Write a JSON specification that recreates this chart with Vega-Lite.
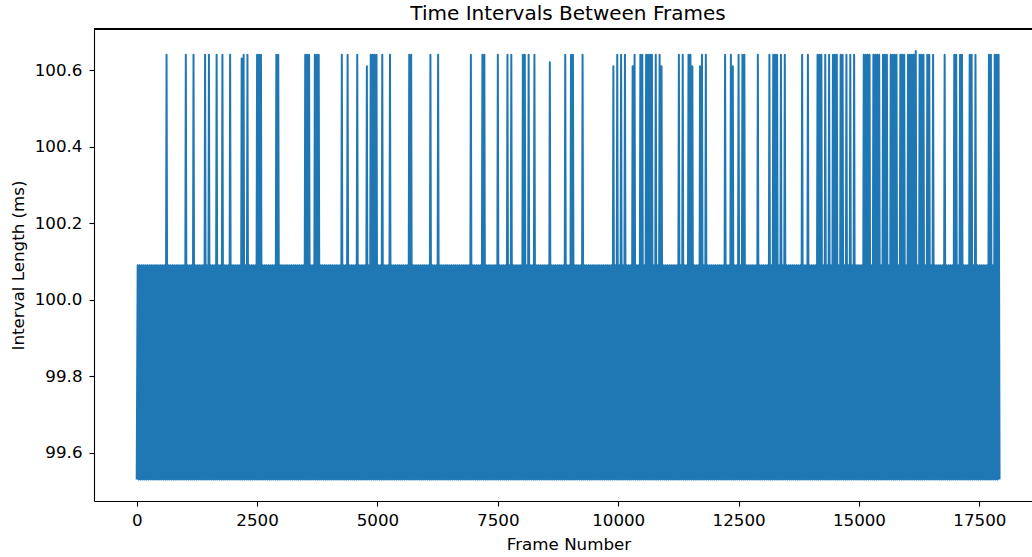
{
"$schema": "https://vega.github.io/schema/vega-lite/v6.json",
"width": 938,
"height": 472,
"autosize": "none",
"padding": {"left": 94, "top": 29, "right": 0, "bottom": 56},
"background": "white",
"config": {"view": {"stroke": null}, "font": "DejaVu Sans"},
"title": {"text": "Time Intervals Between Frames", "font": "DejaVu Sans", "fontSize": 20, "fontWeight": "normal", "color": "black", "anchor": "middle", "dx": 5, "offset": 4},
"data": {"values": [
{"frame":0,"ms":99.53},{"frame":20,"ms":100.09},{"frame":40,"ms":99.53},{"frame":60,"ms":100.09},{"frame":80,"ms":99.53},{"frame":100,"ms":100.09},{"frame":120,"ms":99.53},{"frame":140,"ms":100.09},{"frame":160,"ms":99.53},{"frame":180,"ms":100.09},{"frame":200,"ms":99.53},{"frame":220,"ms":100.09},{"frame":240,"ms":99.53},{"frame":260,"ms":100.09},{"frame":280,"ms":99.53},{"frame":300,"ms":100.09},{"frame":320,"ms":99.53},{"frame":340,"ms":100.09},{"frame":360,"ms":99.53},{"frame":380,"ms":100.09},
{"frame":400,"ms":99.53},{"frame":420,"ms":100.09},{"frame":440,"ms":99.53},{"frame":460,"ms":100.09},{"frame":480,"ms":99.53},{"frame":500,"ms":100.09},{"frame":520,"ms":99.53},{"frame":540,"ms":100.09},{"frame":560,"ms":99.53},{"frame":580,"ms":100.09},{"frame":600,"ms":99.53},{"frame":620,"ms":100.64},{"frame":640,"ms":99.53},{"frame":660,"ms":100.09},{"frame":680,"ms":99.53},{"frame":700,"ms":100.09},{"frame":720,"ms":99.53},{"frame":740,"ms":100.09},{"frame":760,"ms":99.53},{"frame":780,"ms":100.09},
{"frame":800,"ms":99.53},{"frame":820,"ms":100.09},{"frame":840,"ms":99.53},{"frame":860,"ms":100.09},{"frame":880,"ms":99.53},{"frame":900,"ms":100.09},{"frame":920,"ms":99.53},{"frame":940,"ms":100.09},{"frame":960,"ms":99.53},{"frame":980,"ms":100.09},{"frame":1000,"ms":99.53},{"frame":1020,"ms":100.64},{"frame":1040,"ms":99.53},{"frame":1060,"ms":100.09},{"frame":1080,"ms":99.53},{"frame":1100,"ms":100.09},{"frame":1120,"ms":99.53},{"frame":1140,"ms":100.09},{"frame":1160,"ms":99.53},{"frame":1180,"ms":100.64},
{"frame":1200,"ms":99.53},{"frame":1220,"ms":100.09},{"frame":1240,"ms":99.53},{"frame":1260,"ms":100.09},{"frame":1280,"ms":99.53},{"frame":1300,"ms":100.09},{"frame":1320,"ms":99.53},{"frame":1340,"ms":100.09},{"frame":1360,"ms":99.53},{"frame":1380,"ms":100.09},{"frame":1400,"ms":99.53},{"frame":1420,"ms":100.64},{"frame":1440,"ms":99.53},{"frame":1460,"ms":100.09},{"frame":1480,"ms":99.53},{"frame":1500,"ms":100.64},{"frame":1520,"ms":99.53},{"frame":1540,"ms":100.09},{"frame":1560,"ms":99.53},{"frame":1580,"ms":100.09},
{"frame":1600,"ms":99.53},{"frame":1620,"ms":100.09},{"frame":1640,"ms":99.53},{"frame":1660,"ms":100.64},{"frame":1680,"ms":99.53},{"frame":1700,"ms":100.09},{"frame":1720,"ms":99.53},{"frame":1740,"ms":100.09},{"frame":1760,"ms":99.53},{"frame":1780,"ms":100.64},{"frame":1800,"ms":99.53},{"frame":1820,"ms":100.09},{"frame":1840,"ms":99.53},{"frame":1860,"ms":100.09},{"frame":1880,"ms":99.53},{"frame":1900,"ms":100.09},{"frame":1920,"ms":99.53},{"frame":1940,"ms":100.64},{"frame":1960,"ms":99.53},{"frame":1980,"ms":100.09},
{"frame":2000,"ms":99.53},{"frame":2020,"ms":100.09},{"frame":2040,"ms":99.53},{"frame":2060,"ms":100.09},{"frame":2080,"ms":99.53},{"frame":2100,"ms":100.09},{"frame":2120,"ms":99.53},{"frame":2140,"ms":100.09},{"frame":2160,"ms":99.53},{"frame":2180,"ms":100.63},{"frame":2200,"ms":99.53},{"frame":2220,"ms":100.64},{"frame":2240,"ms":99.53},{"frame":2260,"ms":100.09},{"frame":2280,"ms":99.53},{"frame":2300,"ms":100.64},{"frame":2320,"ms":99.53},{"frame":2340,"ms":100.09},{"frame":2360,"ms":99.53},{"frame":2380,"ms":100.09},
{"frame":2400,"ms":99.53},{"frame":2420,"ms":100.09},{"frame":2440,"ms":99.53},{"frame":2460,"ms":100.09},{"frame":2480,"ms":99.53},{"frame":2500,"ms":100.64},{"frame":2520,"ms":99.53},{"frame":2540,"ms":100.64},{"frame":2560,"ms":99.53},{"frame":2580,"ms":100.64},{"frame":2600,"ms":99.53},{"frame":2620,"ms":100.09},{"frame":2640,"ms":99.53},{"frame":2660,"ms":100.09},{"frame":2680,"ms":99.53},{"frame":2700,"ms":100.09},{"frame":2720,"ms":99.53},{"frame":2740,"ms":100.09},{"frame":2760,"ms":99.53},{"frame":2780,"ms":100.09},
{"frame":2800,"ms":99.53},{"frame":2820,"ms":100.09},{"frame":2840,"ms":99.53},{"frame":2860,"ms":100.09},{"frame":2880,"ms":99.53},{"frame":2900,"ms":100.64},{"frame":2920,"ms":99.53},{"frame":2940,"ms":100.64},{"frame":2960,"ms":99.53},{"frame":2980,"ms":100.09},{"frame":3000,"ms":99.53},{"frame":3020,"ms":100.09},{"frame":3040,"ms":99.53},{"frame":3060,"ms":100.09},{"frame":3080,"ms":99.53},{"frame":3100,"ms":100.09},{"frame":3120,"ms":99.53},{"frame":3140,"ms":100.09},{"frame":3160,"ms":99.53},{"frame":3180,"ms":100.09},
{"frame":3200,"ms":99.53},{"frame":3220,"ms":100.09},{"frame":3240,"ms":99.53},{"frame":3260,"ms":100.09},{"frame":3280,"ms":99.53},{"frame":3300,"ms":100.09},{"frame":3320,"ms":99.53},{"frame":3340,"ms":100.09},{"frame":3360,"ms":99.53},{"frame":3380,"ms":100.09},{"frame":3400,"ms":99.53},{"frame":3420,"ms":100.09},{"frame":3440,"ms":99.53},{"frame":3460,"ms":100.09},{"frame":3480,"ms":99.53},{"frame":3500,"ms":100.64},{"frame":3520,"ms":99.53},{"frame":3540,"ms":100.64},{"frame":3560,"ms":99.53},{"frame":3580,"ms":100.64},
{"frame":3600,"ms":99.53},{"frame":3620,"ms":100.09},{"frame":3640,"ms":99.53},{"frame":3660,"ms":100.09},{"frame":3680,"ms":99.53},{"frame":3700,"ms":100.64},{"frame":3720,"ms":99.53},{"frame":3740,"ms":100.64},{"frame":3760,"ms":99.53},{"frame":3780,"ms":100.64},{"frame":3800,"ms":99.53},{"frame":3820,"ms":100.09},{"frame":3840,"ms":99.53},{"frame":3860,"ms":100.09},{"frame":3880,"ms":99.53},{"frame":3900,"ms":100.09},{"frame":3920,"ms":99.53},{"frame":3940,"ms":100.09},{"frame":3960,"ms":99.53},{"frame":3980,"ms":100.09},
{"frame":4000,"ms":99.53},{"frame":4020,"ms":100.09},{"frame":4040,"ms":99.53},{"frame":4060,"ms":100.09},{"frame":4080,"ms":99.53},{"frame":4100,"ms":100.09},{"frame":4120,"ms":99.53},{"frame":4140,"ms":100.09},{"frame":4160,"ms":99.53},{"frame":4180,"ms":100.09},{"frame":4200,"ms":99.53},{"frame":4220,"ms":100.09},{"frame":4240,"ms":99.53},{"frame":4260,"ms":100.64},{"frame":4280,"ms":99.53},{"frame":4300,"ms":100.09},{"frame":4320,"ms":99.53},{"frame":4340,"ms":100.09},{"frame":4360,"ms":99.53},{"frame":4380,"ms":100.64},
{"frame":4400,"ms":99.53},{"frame":4420,"ms":100.09},{"frame":4440,"ms":99.53},{"frame":4460,"ms":100.09},{"frame":4480,"ms":99.53},{"frame":4500,"ms":100.09},{"frame":4520,"ms":99.53},{"frame":4540,"ms":100.09},{"frame":4560,"ms":99.53},{"frame":4580,"ms":100.64},{"frame":4600,"ms":99.53},{"frame":4620,"ms":100.09},{"frame":4640,"ms":99.53},{"frame":4660,"ms":100.09},{"frame":4680,"ms":99.53},{"frame":4700,"ms":100.09},{"frame":4720,"ms":99.53},{"frame":4740,"ms":100.09},{"frame":4760,"ms":99.53},{"frame":4780,"ms":100.61},
{"frame":4800,"ms":99.53},{"frame":4820,"ms":100.09},{"frame":4840,"ms":99.53},{"frame":4860,"ms":100.64},{"frame":4880,"ms":99.53},{"frame":4900,"ms":100.64},{"frame":4920,"ms":99.53},{"frame":4940,"ms":100.64},{"frame":4960,"ms":99.53},{"frame":4980,"ms":100.64},{"frame":5000,"ms":99.53},{"frame":5020,"ms":100.09},{"frame":5040,"ms":99.53},{"frame":5060,"ms":100.09},{"frame":5080,"ms":99.53},{"frame":5100,"ms":100.64},{"frame":5120,"ms":99.53},{"frame":5140,"ms":100.09},{"frame":5160,"ms":99.53},{"frame":5180,"ms":100.09},
{"frame":5200,"ms":99.53},{"frame":5220,"ms":100.09},{"frame":5240,"ms":99.53},{"frame":5260,"ms":100.64},{"frame":5280,"ms":99.53},{"frame":5300,"ms":100.09},{"frame":5320,"ms":99.53},{"frame":5340,"ms":100.09},{"frame":5360,"ms":99.53},{"frame":5380,"ms":100.09},{"frame":5400,"ms":99.53},{"frame":5420,"ms":100.09},{"frame":5440,"ms":99.53},{"frame":5460,"ms":100.09},{"frame":5480,"ms":99.53},{"frame":5500,"ms":100.09},{"frame":5520,"ms":99.53},{"frame":5540,"ms":100.09},{"frame":5560,"ms":99.53},{"frame":5580,"ms":100.09},
{"frame":5600,"ms":99.53},{"frame":5620,"ms":100.09},{"frame":5640,"ms":99.53},{"frame":5660,"ms":100.64},{"frame":5680,"ms":99.53},{"frame":5700,"ms":100.64},{"frame":5720,"ms":99.53},{"frame":5740,"ms":100.09},{"frame":5760,"ms":99.53},{"frame":5780,"ms":100.09},{"frame":5800,"ms":99.53},{"frame":5820,"ms":100.09},{"frame":5840,"ms":99.53},{"frame":5860,"ms":100.09},{"frame":5880,"ms":99.53},{"frame":5900,"ms":100.09},{"frame":5920,"ms":99.53},{"frame":5940,"ms":100.09},{"frame":5960,"ms":99.53},{"frame":5980,"ms":100.09},
{"frame":6000,"ms":99.53},{"frame":6020,"ms":100.09},{"frame":6040,"ms":99.53},{"frame":6060,"ms":100.09},{"frame":6080,"ms":99.53},{"frame":6100,"ms":100.64},{"frame":6120,"ms":99.53},{"frame":6140,"ms":100.09},{"frame":6160,"ms":99.53},{"frame":6180,"ms":100.09},{"frame":6200,"ms":99.53},{"frame":6220,"ms":100.09},{"frame":6240,"ms":99.53},{"frame":6260,"ms":100.64},{"frame":6280,"ms":99.53},{"frame":6300,"ms":100.09},{"frame":6320,"ms":99.53},{"frame":6340,"ms":100.09},{"frame":6360,"ms":99.53},{"frame":6380,"ms":100.09},
{"frame":6400,"ms":99.53},{"frame":6420,"ms":100.09},{"frame":6440,"ms":99.53},{"frame":6460,"ms":100.09},{"frame":6480,"ms":99.53},{"frame":6500,"ms":100.09},{"frame":6520,"ms":99.53},{"frame":6540,"ms":100.09},{"frame":6560,"ms":99.53},{"frame":6580,"ms":100.09},{"frame":6600,"ms":99.53},{"frame":6620,"ms":100.09},{"frame":6640,"ms":99.53},{"frame":6660,"ms":100.09},{"frame":6680,"ms":99.53},{"frame":6700,"ms":100.09},{"frame":6720,"ms":99.53},{"frame":6740,"ms":100.09},{"frame":6760,"ms":99.53},{"frame":6780,"ms":100.09},
{"frame":6800,"ms":99.53},{"frame":6820,"ms":100.09},{"frame":6840,"ms":99.53},{"frame":6860,"ms":100.09},{"frame":6880,"ms":99.53},{"frame":6900,"ms":100.09},{"frame":6920,"ms":99.53},{"frame":6940,"ms":100.64},{"frame":6960,"ms":99.53},{"frame":6980,"ms":100.09},{"frame":7000,"ms":99.53},{"frame":7020,"ms":100.09},{"frame":7040,"ms":99.53},{"frame":7060,"ms":100.09},{"frame":7080,"ms":99.53},{"frame":7100,"ms":100.09},{"frame":7120,"ms":99.53},{"frame":7140,"ms":100.09},{"frame":7160,"ms":99.53},{"frame":7180,"ms":100.64},
{"frame":7200,"ms":99.53},{"frame":7220,"ms":100.64},{"frame":7240,"ms":99.53},{"frame":7260,"ms":100.09},{"frame":7280,"ms":99.53},{"frame":7300,"ms":100.09},{"frame":7320,"ms":99.53},{"frame":7340,"ms":100.09},{"frame":7360,"ms":99.53},{"frame":7380,"ms":100.09},{"frame":7400,"ms":99.53},{"frame":7420,"ms":100.09},{"frame":7440,"ms":99.53},{"frame":7460,"ms":100.09},{"frame":7480,"ms":99.53},{"frame":7500,"ms":100.64},{"frame":7520,"ms":99.53},{"frame":7540,"ms":100.09},{"frame":7560,"ms":99.53},{"frame":7580,"ms":100.09},
{"frame":7600,"ms":99.53},{"frame":7620,"ms":100.09},{"frame":7640,"ms":99.53},{"frame":7660,"ms":100.09},{"frame":7680,"ms":99.53},{"frame":7700,"ms":100.64},{"frame":7720,"ms":99.53},{"frame":7740,"ms":100.09},{"frame":7760,"ms":99.53},{"frame":7780,"ms":100.64},{"frame":7800,"ms":99.53},{"frame":7820,"ms":100.09},{"frame":7840,"ms":99.53},{"frame":7860,"ms":100.09},{"frame":7880,"ms":99.53},{"frame":7900,"ms":100.09},{"frame":7920,"ms":99.53},{"frame":7940,"ms":100.09},{"frame":7960,"ms":99.53},{"frame":7980,"ms":100.09},
{"frame":8000,"ms":99.53},{"frame":8020,"ms":100.64},{"frame":8040,"ms":99.53},{"frame":8060,"ms":100.64},{"frame":8080,"ms":99.53},{"frame":8100,"ms":100.09},{"frame":8120,"ms":99.53},{"frame":8140,"ms":100.64},{"frame":8160,"ms":99.53},{"frame":8180,"ms":100.09},{"frame":8200,"ms":99.53},{"frame":8220,"ms":100.09},{"frame":8240,"ms":99.53},{"frame":8260,"ms":100.64},{"frame":8280,"ms":99.53},{"frame":8300,"ms":100.09},{"frame":8320,"ms":99.53},{"frame":8340,"ms":100.09},{"frame":8360,"ms":99.53},{"frame":8380,"ms":100.09},
{"frame":8400,"ms":99.53},{"frame":8420,"ms":100.09},{"frame":8440,"ms":99.53},{"frame":8460,"ms":100.09},{"frame":8480,"ms":99.53},{"frame":8500,"ms":100.09},{"frame":8520,"ms":99.53},{"frame":8540,"ms":100.09},{"frame":8560,"ms":99.53},{"frame":8580,"ms":100.62},{"frame":8600,"ms":99.53},{"frame":8620,"ms":100.09},{"frame":8640,"ms":99.53},{"frame":8660,"ms":100.09},{"frame":8680,"ms":99.53},{"frame":8700,"ms":100.09},{"frame":8720,"ms":99.53},{"frame":8740,"ms":100.09},{"frame":8760,"ms":99.53},{"frame":8780,"ms":100.09},
{"frame":8800,"ms":99.53},{"frame":8820,"ms":100.09},{"frame":8840,"ms":99.53},{"frame":8860,"ms":100.09},{"frame":8880,"ms":99.53},{"frame":8900,"ms":100.64},{"frame":8920,"ms":99.53},{"frame":8940,"ms":100.09},{"frame":8960,"ms":99.53},{"frame":8980,"ms":100.09},{"frame":9000,"ms":99.53},{"frame":9020,"ms":100.64},{"frame":9040,"ms":99.53},{"frame":9060,"ms":100.64},{"frame":9080,"ms":99.53},{"frame":9100,"ms":100.09},{"frame":9120,"ms":99.53},{"frame":9140,"ms":100.09},{"frame":9160,"ms":99.53},{"frame":9180,"ms":100.09},
{"frame":9200,"ms":99.53},{"frame":9220,"ms":100.09},{"frame":9240,"ms":99.53},{"frame":9260,"ms":100.64},{"frame":9280,"ms":99.53},{"frame":9300,"ms":100.09},{"frame":9320,"ms":99.53},{"frame":9340,"ms":100.09},{"frame":9360,"ms":99.53},{"frame":9380,"ms":100.09},{"frame":9400,"ms":99.53},{"frame":9420,"ms":100.09},{"frame":9440,"ms":99.53},{"frame":9460,"ms":100.09},{"frame":9480,"ms":99.53},{"frame":9500,"ms":100.09},{"frame":9520,"ms":99.53},{"frame":9540,"ms":100.09},{"frame":9560,"ms":99.53},{"frame":9580,"ms":100.09},
{"frame":9600,"ms":99.53},{"frame":9620,"ms":100.09},{"frame":9640,"ms":99.53},{"frame":9660,"ms":100.09},{"frame":9680,"ms":99.53},{"frame":9700,"ms":100.09},{"frame":9720,"ms":99.53},{"frame":9740,"ms":100.09},{"frame":9760,"ms":99.53},{"frame":9780,"ms":100.09},{"frame":9800,"ms":99.53},{"frame":9820,"ms":100.09},{"frame":9840,"ms":99.53},{"frame":9860,"ms":100.09},{"frame":9880,"ms":99.53},{"frame":9900,"ms":100.61},{"frame":9920,"ms":99.53},{"frame":9940,"ms":100.09},{"frame":9960,"ms":99.53},{"frame":9980,"ms":100.64},
{"frame":10000,"ms":99.53},{"frame":10020,"ms":100.09},{"frame":10040,"ms":99.53},{"frame":10060,"ms":100.64},{"frame":10080,"ms":99.53},{"frame":10100,"ms":100.09},{"frame":10120,"ms":99.53},{"frame":10140,"ms":100.64},{"frame":10160,"ms":99.53},{"frame":10180,"ms":100.09},{"frame":10200,"ms":99.53},{"frame":10220,"ms":100.09},{"frame":10240,"ms":99.53},{"frame":10260,"ms":100.09},{"frame":10280,"ms":99.53},{"frame":10300,"ms":100.61},{"frame":10320,"ms":99.53},{"frame":10340,"ms":100.64},{"frame":10360,"ms":99.53},{"frame":10380,"ms":100.09},
{"frame":10400,"ms":99.53},{"frame":10420,"ms":100.09},{"frame":10440,"ms":99.53},{"frame":10460,"ms":100.64},{"frame":10480,"ms":99.53},{"frame":10500,"ms":100.64},{"frame":10520,"ms":99.53},{"frame":10540,"ms":100.09},{"frame":10560,"ms":99.53},{"frame":10580,"ms":100.64},{"frame":10600,"ms":99.53},{"frame":10620,"ms":100.64},{"frame":10640,"ms":99.53},{"frame":10660,"ms":100.64},{"frame":10680,"ms":99.53},{"frame":10700,"ms":100.64},{"frame":10720,"ms":99.53},{"frame":10740,"ms":100.09},{"frame":10760,"ms":99.53},{"frame":10780,"ms":100.64},
{"frame":10800,"ms":99.53},{"frame":10820,"ms":100.09},{"frame":10840,"ms":99.53},{"frame":10860,"ms":100.64},{"frame":10880,"ms":99.53},{"frame":10900,"ms":100.61},{"frame":10920,"ms":99.53},{"frame":10940,"ms":100.09},{"frame":10960,"ms":99.53},{"frame":10980,"ms":100.09},{"frame":11000,"ms":99.53},{"frame":11020,"ms":100.09},{"frame":11040,"ms":99.53},{"frame":11060,"ms":100.09},{"frame":11080,"ms":99.53},{"frame":11100,"ms":100.09},{"frame":11120,"ms":99.53},{"frame":11140,"ms":100.09},{"frame":11160,"ms":99.53},{"frame":11180,"ms":100.09},
{"frame":11200,"ms":99.53},{"frame":11220,"ms":100.09},{"frame":11240,"ms":99.53},{"frame":11260,"ms":100.64},{"frame":11280,"ms":99.53},{"frame":11300,"ms":100.09},{"frame":11320,"ms":99.53},{"frame":11340,"ms":100.64},{"frame":11360,"ms":99.53},{"frame":11380,"ms":100.09},{"frame":11400,"ms":99.53},{"frame":11420,"ms":100.09},{"frame":11440,"ms":99.53},{"frame":11460,"ms":100.64},{"frame":11480,"ms":99.53},{"frame":11500,"ms":100.64},{"frame":11520,"ms":99.53},{"frame":11540,"ms":100.61},{"frame":11560,"ms":99.53},{"frame":11580,"ms":100.09},
{"frame":11600,"ms":99.53},{"frame":11620,"ms":100.09},{"frame":11640,"ms":99.53},{"frame":11660,"ms":100.09},{"frame":11680,"ms":99.53},{"frame":11700,"ms":100.61},{"frame":11720,"ms":99.53},{"frame":11740,"ms":100.64},{"frame":11760,"ms":99.53},{"frame":11780,"ms":100.09},{"frame":11800,"ms":99.53},{"frame":11820,"ms":100.64},{"frame":11840,"ms":99.53},{"frame":11860,"ms":100.09},{"frame":11880,"ms":99.53},{"frame":11900,"ms":100.09},{"frame":11920,"ms":99.53},{"frame":11940,"ms":100.09},{"frame":11960,"ms":99.53},{"frame":11980,"ms":100.09},
{"frame":12000,"ms":99.53},{"frame":12020,"ms":100.09},{"frame":12040,"ms":99.53},{"frame":12060,"ms":100.09},{"frame":12080,"ms":99.53},{"frame":12100,"ms":100.09},{"frame":12120,"ms":99.53},{"frame":12140,"ms":100.09},{"frame":12160,"ms":99.53},{"frame":12180,"ms":100.09},{"frame":12200,"ms":99.53},{"frame":12220,"ms":100.64},{"frame":12240,"ms":99.53},{"frame":12260,"ms":100.09},{"frame":12280,"ms":99.53},{"frame":12300,"ms":100.09},{"frame":12320,"ms":99.53},{"frame":12340,"ms":100.64},{"frame":12360,"ms":99.53},{"frame":12380,"ms":100.61},
{"frame":12400,"ms":99.53},{"frame":12420,"ms":100.09},{"frame":12440,"ms":99.53},{"frame":12460,"ms":100.09},{"frame":12480,"ms":99.53},{"frame":12500,"ms":100.64},{"frame":12520,"ms":99.53},{"frame":12540,"ms":100.09},{"frame":12560,"ms":99.53},{"frame":12580,"ms":100.64},{"frame":12600,"ms":99.53},{"frame":12620,"ms":100.64},{"frame":12640,"ms":99.53},{"frame":12660,"ms":100.09},{"frame":12680,"ms":99.53},{"frame":12700,"ms":100.09},{"frame":12720,"ms":99.53},{"frame":12740,"ms":100.09},{"frame":12760,"ms":99.53},{"frame":12780,"ms":100.09},
{"frame":12800,"ms":99.53},{"frame":12820,"ms":100.09},{"frame":12840,"ms":99.53},{"frame":12860,"ms":100.09},{"frame":12880,"ms":99.53},{"frame":12900,"ms":100.64},{"frame":12920,"ms":99.53},{"frame":12940,"ms":100.09},{"frame":12960,"ms":99.53},{"frame":12980,"ms":100.09},{"frame":13000,"ms":99.53},{"frame":13020,"ms":100.09},{"frame":13040,"ms":99.53},{"frame":13060,"ms":100.09},{"frame":13080,"ms":99.53},{"frame":13100,"ms":100.09},{"frame":13120,"ms":99.53},{"frame":13140,"ms":100.64},{"frame":13160,"ms":99.53},{"frame":13180,"ms":100.09},
{"frame":13200,"ms":99.53},{"frame":13220,"ms":100.64},{"frame":13240,"ms":99.53},{"frame":13260,"ms":100.64},{"frame":13280,"ms":99.53},{"frame":13300,"ms":100.64},{"frame":13320,"ms":99.53},{"frame":13340,"ms":100.09},{"frame":13360,"ms":99.53},{"frame":13380,"ms":100.64},{"frame":13400,"ms":99.53},{"frame":13420,"ms":100.09},{"frame":13440,"ms":99.53},{"frame":13460,"ms":100.64},{"frame":13480,"ms":99.53},{"frame":13500,"ms":100.09},{"frame":13520,"ms":99.53},{"frame":13540,"ms":100.09},{"frame":13560,"ms":99.53},{"frame":13580,"ms":100.09},
{"frame":13600,"ms":99.53},{"frame":13620,"ms":100.09},{"frame":13640,"ms":99.53},{"frame":13660,"ms":100.09},{"frame":13680,"ms":99.53},{"frame":13700,"ms":100.09},{"frame":13720,"ms":99.53},{"frame":13740,"ms":100.09},{"frame":13760,"ms":99.53},{"frame":13780,"ms":100.09},{"frame":13800,"ms":99.53},{"frame":13820,"ms":100.64},{"frame":13840,"ms":99.53},{"frame":13860,"ms":100.09},{"frame":13880,"ms":99.53},{"frame":13900,"ms":100.09},{"frame":13920,"ms":99.53},{"frame":13940,"ms":100.64},{"frame":13960,"ms":99.53},{"frame":13980,"ms":100.09},
{"frame":14000,"ms":99.53},{"frame":14020,"ms":100.09},{"frame":14040,"ms":99.53},{"frame":14060,"ms":100.09},{"frame":14080,"ms":99.53},{"frame":14100,"ms":100.09},{"frame":14120,"ms":99.53},{"frame":14140,"ms":100.64},{"frame":14160,"ms":99.53},{"frame":14180,"ms":100.64},{"frame":14200,"ms":99.53},{"frame":14220,"ms":100.64},{"frame":14240,"ms":99.53},{"frame":14260,"ms":100.09},{"frame":14280,"ms":99.53},{"frame":14300,"ms":100.64},{"frame":14320,"ms":99.53},{"frame":14340,"ms":100.09},{"frame":14360,"ms":99.53},{"frame":14380,"ms":100.64},
{"frame":14400,"ms":99.53},{"frame":14420,"ms":100.09},{"frame":14440,"ms":99.53},{"frame":14460,"ms":100.64},{"frame":14480,"ms":99.53},{"frame":14500,"ms":100.64},{"frame":14520,"ms":99.53},{"frame":14540,"ms":100.64},{"frame":14560,"ms":99.53},{"frame":14580,"ms":100.09},{"frame":14600,"ms":99.53},{"frame":14620,"ms":100.64},{"frame":14640,"ms":99.53},{"frame":14660,"ms":100.64},{"frame":14680,"ms":99.53},{"frame":14700,"ms":100.09},{"frame":14720,"ms":99.53},{"frame":14740,"ms":100.64},{"frame":14760,"ms":99.53},{"frame":14780,"ms":100.09},
{"frame":14800,"ms":99.53},{"frame":14820,"ms":100.64},{"frame":14840,"ms":99.53},{"frame":14860,"ms":100.09},{"frame":14880,"ms":99.53},{"frame":14900,"ms":100.64},{"frame":14920,"ms":99.53},{"frame":14940,"ms":100.09},{"frame":14960,"ms":99.53},{"frame":14980,"ms":100.09},{"frame":15000,"ms":99.53},{"frame":15020,"ms":100.09},{"frame":15040,"ms":99.53},{"frame":15060,"ms":100.09},{"frame":15080,"ms":99.53},{"frame":15100,"ms":100.64},{"frame":15120,"ms":99.53},{"frame":15140,"ms":100.64},{"frame":15160,"ms":99.53},{"frame":15180,"ms":100.64},
{"frame":15200,"ms":99.53},{"frame":15220,"ms":100.64},{"frame":15240,"ms":99.53},{"frame":15260,"ms":100.09},{"frame":15280,"ms":99.53},{"frame":15300,"ms":100.64},{"frame":15320,"ms":99.53},{"frame":15340,"ms":100.64},{"frame":15360,"ms":99.53},{"frame":15380,"ms":100.64},{"frame":15400,"ms":99.53},{"frame":15420,"ms":100.64},{"frame":15440,"ms":99.53},{"frame":15460,"ms":100.09},{"frame":15480,"ms":99.53},{"frame":15500,"ms":100.64},{"frame":15520,"ms":99.53},{"frame":15540,"ms":100.64},{"frame":15560,"ms":99.53},{"frame":15580,"ms":100.64},
{"frame":15600,"ms":99.53},{"frame":15620,"ms":100.09},{"frame":15640,"ms":99.53},{"frame":15660,"ms":100.64},{"frame":15680,"ms":99.53},{"frame":15700,"ms":100.64},{"frame":15720,"ms":99.53},{"frame":15740,"ms":100.64},{"frame":15760,"ms":99.53},{"frame":15780,"ms":100.64},{"frame":15800,"ms":99.53},{"frame":15820,"ms":100.09},{"frame":15840,"ms":99.53},{"frame":15860,"ms":100.64},{"frame":15880,"ms":99.53},{"frame":15900,"ms":100.64},{"frame":15920,"ms":99.53},{"frame":15940,"ms":100.64},{"frame":15960,"ms":99.53},{"frame":15980,"ms":100.09},
{"frame":16000,"ms":99.53},{"frame":16020,"ms":100.64},{"frame":16040,"ms":99.53},{"frame":16060,"ms":100.64},{"frame":16080,"ms":99.53},{"frame":16100,"ms":100.64},{"frame":16120,"ms":99.53},{"frame":16140,"ms":100.64},{"frame":16160,"ms":99.53},{"frame":16180,"ms":100.65},{"frame":16200,"ms":99.53},{"frame":16220,"ms":100.09},{"frame":16240,"ms":99.53},{"frame":16260,"ms":100.64},{"frame":16280,"ms":99.53},{"frame":16300,"ms":100.64},{"frame":16320,"ms":99.53},{"frame":16340,"ms":100.64},{"frame":16360,"ms":99.53},{"frame":16380,"ms":100.09},
{"frame":16400,"ms":99.53},{"frame":16420,"ms":100.64},{"frame":16440,"ms":99.53},{"frame":16460,"ms":100.64},{"frame":16480,"ms":99.53},{"frame":16500,"ms":100.09},{"frame":16520,"ms":99.53},{"frame":16540,"ms":100.64},{"frame":16560,"ms":99.53},{"frame":16580,"ms":100.09},{"frame":16600,"ms":99.53},{"frame":16620,"ms":100.09},{"frame":16640,"ms":99.53},{"frame":16660,"ms":100.09},{"frame":16680,"ms":99.53},{"frame":16700,"ms":100.09},{"frame":16720,"ms":99.53},{"frame":16740,"ms":100.09},{"frame":16760,"ms":99.53},{"frame":16780,"ms":100.64},
{"frame":16800,"ms":99.53},{"frame":16820,"ms":100.09},{"frame":16840,"ms":99.53},{"frame":16860,"ms":100.09},{"frame":16880,"ms":99.53},{"frame":16900,"ms":100.09},{"frame":16920,"ms":99.53},{"frame":16940,"ms":100.09},{"frame":16960,"ms":99.53},{"frame":16980,"ms":100.64},{"frame":17000,"ms":99.53},{"frame":17020,"ms":100.64},{"frame":17040,"ms":99.53},{"frame":17060,"ms":100.09},{"frame":17080,"ms":99.53},{"frame":17100,"ms":100.64},{"frame":17120,"ms":99.53},{"frame":17140,"ms":100.64},{"frame":17160,"ms":99.53},{"frame":17180,"ms":100.09},
{"frame":17200,"ms":99.53},{"frame":17220,"ms":100.09},{"frame":17240,"ms":99.53},{"frame":17260,"ms":100.09},{"frame":17280,"ms":99.53},{"frame":17300,"ms":100.64},{"frame":17320,"ms":99.53},{"frame":17340,"ms":100.64},{"frame":17360,"ms":99.53},{"frame":17380,"ms":100.09},{"frame":17400,"ms":99.53},{"frame":17420,"ms":100.64},{"frame":17440,"ms":99.53},{"frame":17460,"ms":100.09},{"frame":17480,"ms":99.53},{"frame":17500,"ms":100.09},{"frame":17520,"ms":99.53},{"frame":17540,"ms":100.09},{"frame":17560,"ms":99.53},{"frame":17580,"ms":100.09},
{"frame":17600,"ms":99.53},{"frame":17620,"ms":100.09},{"frame":17640,"ms":99.53},{"frame":17660,"ms":100.09},{"frame":17680,"ms":99.53},{"frame":17700,"ms":100.64},{"frame":17720,"ms":99.53},{"frame":17740,"ms":100.64},{"frame":17760,"ms":99.53},{"frame":17780,"ms":100.09},{"frame":17800,"ms":99.53},{"frame":17820,"ms":100.64},{"frame":17840,"ms":99.53},{"frame":17860,"ms":100.64},{"frame":17880,"ms":99.53},{"frame":17900,"ms":100.64},{"frame":17920,"ms":99.53}
]},
"layer": [
{
"mark": {"type": "line", "color": "#1f77b4", "strokeWidth": 2, "strokeJoin": "round", "clip": true},
"encoding": {
"x": {"field": "frame", "type": "quantitative",
"scale": {"domain": [-887, 18594], "nice": false, "zero": false},
"axis": {"values": [0, 2500, 5000, 7500, 10000, 12500, 15000, 17500], "format": "d", "title": "Frame Number", "grid": false,
"domainColor": "black", "domainWidth": 1.1, "tickColor": "black", "tickWidth": 1.1, "tickSize": 5, "labelPadding": 6,
"labelFont": "DejaVu Sans", "labelFontSize": 16.7, "labelColor": "black", "labelFlush": false, "labelOverlap": false,
"titleFont": "DejaVu Sans", "titleFontSize": 16.7, "titleFontWeight": "normal", "titleColor": "black",
"titleX": 474.5, "titleY": 48, "titleBaseline": "alphabetic", "titleAlign": "center"}},
"y": {"field": "ms", "type": "quantitative",
"scale": {"domain": [99.4737, 100.7072], "nice": false, "zero": false},
"axis": {"values": [99.6, 99.8, 100.0, 100.2, 100.4, 100.6], "format": ".1f", "title": "Interval Length (ms)", "grid": false,
"domainColor": "black", "domainWidth": 1.1, "tickColor": "black", "tickWidth": 1.1, "tickSize": 5, "labelPadding": 7,
"labelFont": "DejaVu Sans", "labelFontSize": 16.7, "labelColor": "black", "labelFlush": false, "labelOverlap": false,
"titleFont": "DejaVu Sans", "titleFontSize": 16.7, "titleFontWeight": "normal", "titleColor": "black", "titlePadding": 7}}
}
},
{
"mark": {"type": "rule", "color": "black", "strokeWidth": 1.1},
"encoding": {"y": {"datum": 100.7072}}
}
]
}
